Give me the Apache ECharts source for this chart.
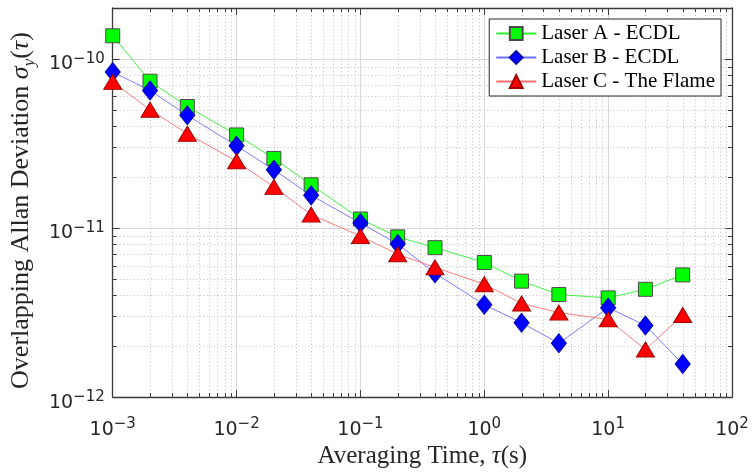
<!DOCTYPE html>
<html>
<head>
<meta charset="utf-8">
<script src="https://cdn.jsdelivr.net/npm/echarts@6/dist/echarts.min.js"></script>
<style>
  html, body { margin: 0; padding: 0; background: #fff; }
  #chart { width: 752px; height: 474px; }
</style>
</head>
<body>
<div id="chart"></div>
<script>
// Averaging times (s)
const tau = [0.001, 0.002, 0.004, 0.01, 0.02, 0.04, 0.1, 0.2, 0.4, 1, 2, 4, 10, 20, 40];

// Overlapping Allan deviation for each laser
const laserA = [1.37e-10, 7.38e-11, 5.23e-11, 3.55e-11, 2.58e-11, 1.80e-11, 1.13e-11,
                8.86e-12, 7.65e-12, 6.25e-12, 4.85e-12, 4.04e-12, 3.86e-12, 4.34e-12, 5.28e-12];
const laserB = [8.36e-11, 6.51e-11, 4.64e-11, 3.06e-11, 2.21e-11, 1.56e-11, 1.07e-11,
                8.05e-12, 5.40e-12, 3.52e-12, 2.75e-12, 2.08e-12, 3.38e-12, 2.65e-12, 1.57e-12];
const laserC = [7.31e-11, 5.00e-11, 3.61e-11, 2.48e-11, 1.75e-11, 1.20e-11, 8.95e-12,
                7.00e-12, 5.85e-12, 4.65e-12, 3.58e-12, 3.16e-12, 2.88e-12, 1.91e-12, 3.06e-12];

const seriesNames = ['Laser A - ECDL', 'Laser B - ECDL', 'Laser C - The Flame'];

// Axis ranges
const xMin = 1e-3, xMax = 1e2;
const yMin = 1e-12, yMax = 2e-10;

// Decades and in-decade steps for the minor grid / minor ticks
const xDecades = [-3, -2, -1, 0, 1];
const yDecades = [-12, -11];
const minorSteps = [2, 3, 4, 5, 6, 7, 8, 9];

const axisColor = '#3a3a3a';
const textColor = '#262626';

function pairs(ys) { return tau.map((t, i) => [t, ys[i]]); }

// Power-of-ten tick label with a raised exponent
function powLabel(v) {
  const e = Math.round(Math.log10(v));
  return '{b|10}{e|' + (e < 0 ? '\u2212' + (-e) : String(e)) + '}';
}

const powRich = {
  b: { fontFamily: 'DejaVu Sans', fontSize: 19, color: textColor, lineHeight: 22, verticalAlign: 'bottom' },
  e: { fontFamily: 'DejaVu Sans', fontSize: 15, color: textColor, lineHeight: 15, verticalAlign: 'top' }
};

// Dotted minor grid plus short inward minor ticks on all four sides
function renderMinor(params, api) {
  const cs = params.coordSys;
  const left = cs.x, right = cs.x + cs.width, top = cs.y, bottom = cs.y + cs.height;
  const minorLen = 4;
  const dotted = { stroke: '#c2c2c2', lineWidth: 1, lineDash: [1, 2.5] };
  const tick = { stroke: axisColor, lineWidth: 1 };
  const children = [];
  xDecades.forEach(d => minorSteps.forEach(k => {
    const v = k * Math.pow(10, d);
    const px = Math.round(api.coord([v, yMin])[0]) + 0.5;
    children.push({ type: 'line', shape: { x1: px, y1: top, x2: px, y2: bottom }, style: dotted });
    children.push({ type: 'line', shape: { x1: px, y1: bottom, x2: px, y2: bottom - minorLen }, style: tick });
    children.push({ type: 'line', shape: { x1: px, y1: top, x2: px, y2: top + minorLen }, style: tick });
  }));
  yDecades.forEach(d => minorSteps.forEach(k => {
    const v = k * Math.pow(10, d);
    const py = Math.round(api.coord([xMin, v])[1]) + 0.5;
    children.push({ type: 'line', shape: { x1: left, y1: py, x2: right, y2: py }, style: dotted });
    children.push({ type: 'line', shape: { x1: left, y1: py, x2: left + minorLen, y2: py }, style: tick });
    children.push({ type: 'line', shape: { x1: right, y1: py, x2: right - minorLen, y2: py }, style: tick });
  }));
  return { type: 'group', children: children };
}

const chart = echarts.init(document.getElementById('chart'), null, { renderer: 'canvas' });

const commonX = { type: 'log', logBase: 10, min: xMin, max: xMax };
const commonY = { type: 'log', logBase: 10, min: yMin, max: yMax };

chart.setOption({
  animation: false,
  backgroundColor: '#fff',
  grid: { left: 111, top: 8, width: 621, height: 395, containLabel: false },
  legend: {
    data: seriesNames,
    orient: 'vertical',
    right: 31,
    top: 19,
    backgroundColor: '#fff',
    borderColor: '#262626',
    borderWidth: 1,
    borderRadius: 0,
    padding: [4, 6, 4, 6],
    itemGap: 3,
    itemWidth: 40,
    itemHeight: 16,
    textStyle: { fontFamily: 'Liberation Serif', fontSize: 21, color: '#000', lineHeight: 19 }
  },
  xAxis: [
    Object.assign({}, commonX, {
      position: 'bottom',
      axisLine: { show: true, lineStyle: { color: axisColor, width: 1.3 } },
      axisTick: { show: true, inside: true, length: 7, lineStyle: { color: axisColor } },
      axisLabel: { show: true, margin: 20, formatter: powLabel, rich: powRich },
      splitLine: { show: true, lineStyle: { color: '#d9d9d9', width: 1 } },
      name: '{t|Averaging Time, }{i|\u03c4}{t|(s)}',
      nameLocation: 'middle',
      nameGap: 41,
      nameTextStyle: {
        rich: {
          t: { fontFamily: 'Liberation Serif', fontSize: 25, color: textColor },
          i: { fontFamily: 'Liberation Serif', fontStyle: 'italic', fontSize: 25, color: textColor }
        }
      }
    }),
    Object.assign({}, commonX, {
      position: 'top',
      axisLine: { show: true, lineStyle: { color: axisColor, width: 1.3 } },
      axisTick: { show: true, inside: true, length: 7, lineStyle: { color: axisColor } },
      axisLabel: { show: false },
      splitLine: { show: false }
    })
  ],
  yAxis: [
    Object.assign({}, commonY, {
      position: 'left',
      axisLine: { show: true, lineStyle: { color: axisColor, width: 1.3 } },
      axisTick: { show: true, inside: true, length: 7, lineStyle: { color: axisColor } },
      axisLabel: { show: true, margin: 8, showMaxLabel: false, padding: [8, 0, 0, 0], formatter: powLabel, rich: powRich },
      splitLine: { show: true, lineStyle: { color: '#d9d9d9', width: 1 } },
      name: '{t|Overlapping Allan Deviation }{i|\u03c3}{s|y}{t|(}{i|\u03c4}{t|)}',
      nameLocation: 'middle',
      nameGap: 72,
      nameTextStyle: {
        padding: [0, 16, 0, 0],
        rich: {
          t: { fontFamily: 'Liberation Serif', fontSize: 26, color: textColor, lineHeight: 30, verticalAlign: 'top' },
          i: { fontFamily: 'Liberation Serif', fontStyle: 'italic', fontSize: 26, color: textColor, lineHeight: 30, verticalAlign: 'top' },
          s: { fontFamily: 'Liberation Serif', fontStyle: 'italic', fontSize: 17, color: textColor, lineHeight: 18, verticalAlign: 'bottom' }
        }
      }
    }),
    Object.assign({}, commonY, {
      position: 'right',
      axisLine: { show: true, lineStyle: { color: axisColor, width: 1.3 } },
      axisTick: { show: true, inside: true, length: 7, lineStyle: { color: axisColor } },
      axisLabel: { show: false },
      splitLine: { show: false }
    })
  ],
  series: [
    {
      type: 'custom',
      name: 'minor',
      silent: true,
      z: 1,
      xAxisIndex: 0,
      yAxisIndex: 0,
      data: [[xMin, yMin]],
      renderItem: renderMinor
    },
    {
      name: seriesNames[0],
      type: 'line',
      z: 3,
      data: pairs(laserA),
      symbol: 'rect',
      symbolSize: 14,
      lineStyle: { color: '#2ef02e', width: 0.9 },
      itemStyle: { color: '#00ff00', borderColor: '#4a4a4a', borderWidth: 1 }
    },
    {
      name: seriesNames[1],
      type: 'line',
      z: 4,
      data: pairs(laserB),
      symbol: 'diamond',
      symbolSize: [15, 19],
      lineStyle: { color: '#6e6eff', width: 0.9 },
      itemStyle: { color: '#0000ff', borderColor: '#0000b0', borderWidth: 1 }
    },
    {
      name: seriesNames[2],
      type: 'line',
      z: 5,
      data: pairs(laserC),
      symbol: 'triangle',
      symbolSize: [18, 15],
      lineStyle: { color: '#ff6e6e', width: 0.9 },
      itemStyle: { color: '#ff0000', borderColor: '#a00000', borderWidth: 1 }
    }
  ]
});
</script>
</body>
</html>
